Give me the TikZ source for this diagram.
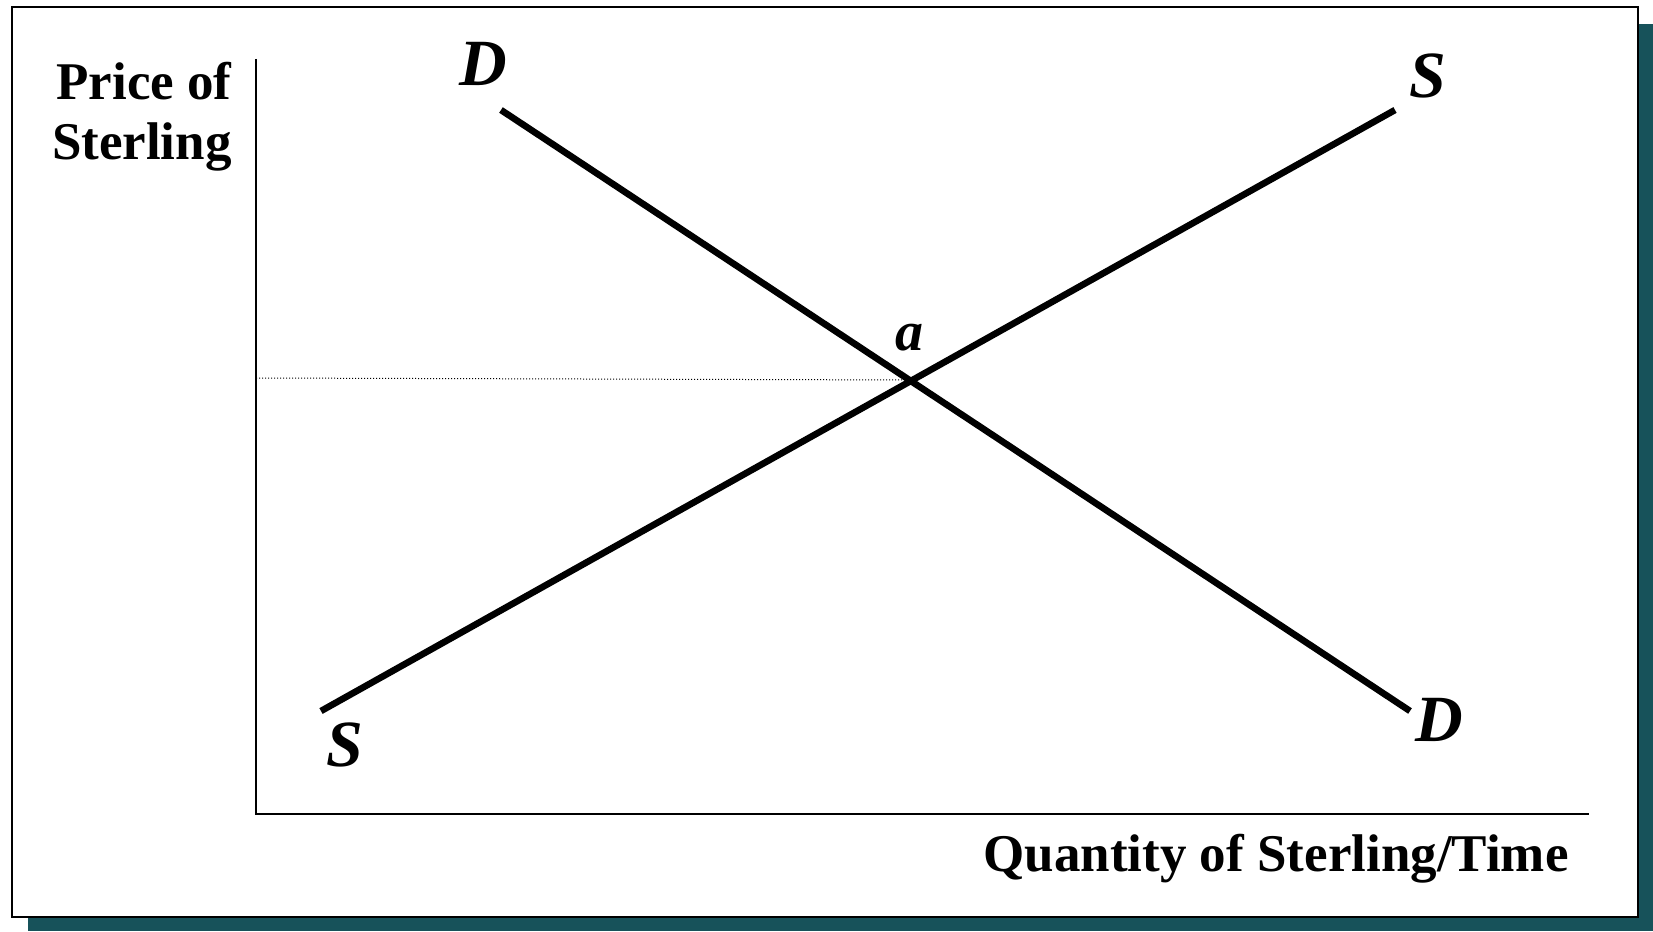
\documentclass[tikz,border=0pt]{standalone}
\usepackage{fontspec}
\setmainfont{Liberation Serif}
\definecolor{shadowteal}{HTML}{17525A}
\begin{document}
\begin{tikzpicture}[x=0.5pt,y=-0.5pt,
  curve/.style={line width=3.3pt},
  axisline/.style={line width=1pt},
  lbl/.style={font=\fontsize{33}{36}\selectfont\bfseries\itshape, inner sep=0pt},
  axlbl/.style={font=\fontsize{26.5}{30}\selectfont\bfseries, inner sep=0pt}]
\useasboundingbox (0,0) rectangle (1653,931);
\fill[shadowteal] (28,24) rectangle (1653,931);
\draw[fill=white, line width=1pt] (12,7) rectangle (1638,917);
% axes
\coordinate (ytop) at (256,59);
\coordinate (origin) at (256,814);
\coordinate (xend) at (1589,814);
\draw[axisline] (ytop) -- (origin) -- (xend);
% curves
\coordinate (d1) at (501,110);
\coordinate (d2) at (1410,711);
\coordinate (s1) at (321,711);
\coordinate (s2) at (1395,110);
\coordinate (eq) at (910,380);
\coordinate (py) at (256,378);
\draw[curve] (d1) -- (d2);
\draw[curve] (s1) -- (s2);
\draw[densely dotted, line width=0.5pt] (py) -- (eq);
% labels
\node[lbl] (Dtop) at (483,64) {D};
\node[lbl] (Stop) at (1428,76) {S};
\node[lbl] (Sbot) at (345,745) {S};
\node[lbl] (Dbot) at (1439,720) {D};
\node[lbl, font=\fontsize{28}{30}\selectfont\bfseries\itshape] (a) at (909,338) {a};
\node[axlbl, align=right, anchor=east] (ylab) at (232,117) {Price of\\Sterling};
\node[axlbl] (xlab) at (1276,859) {Quantity of Sterling/Time};
\end{tikzpicture}
\end{document}
